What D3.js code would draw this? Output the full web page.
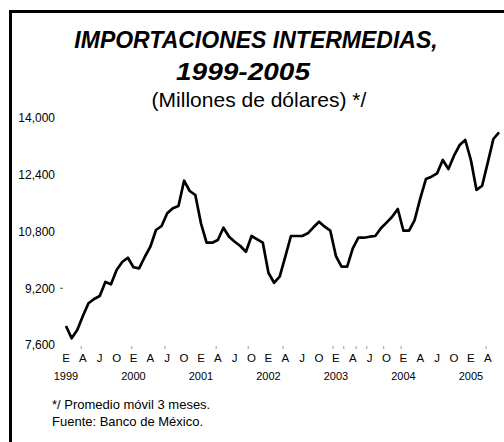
<!DOCTYPE html>
<html>
<head>
<meta charset="utf-8">
<script src="https://cdn.jsdelivr.net/npm/d3@7"></script>
<style>
  body { margin: 0; background: #fff; }
  text { font-family: "Liberation Sans", Arial, sans-serif; fill: #000; }
</style>
</head>
<body>
<svg id="chart"></svg>
<script>
// monthly values, Jan 1999 .. Jun 2005 (millones de dolares, promedio movil 3 meses)
const years = [1999, 2000, 2001, 2002, 2003, 2004, 2005];
const monthLetters = ['E', 'A', 'J', 'O'];
const yTicks = [7600, 9200, 10800, 12400, 14000];
const values = [
  8136, 7789, 8023, 8418, 8776, 8897, 8981, 9376, 9311, 9714, 9940, 10061,
  9791, 9762, 10081, 10371, 10842, 10955, 11313, 11454, 11519, 12232, 11942, 11829,
  11031, 10484, 10484, 10560, 10907, 10653, 10512, 10391, 10230, 10673, 10580, 10484,
  9638, 9356, 9526, 10089, 10673, 10673, 10673, 10749, 10918, 11076, 10935, 10822,
  10109, 9807, 9807, 10326, 10625, 10625, 10653, 10673, 10890, 11051, 11217, 11434,
  10822, 10822, 11124, 11736, 12280, 12345, 12441, 12816, 12562, 12937, 13238, 13380,
  12816, 11970, 12091, 12740, 13408, 13597
];
// faint stray tick marks seen above the month letters (month index)
const strayTicks = [2.7, 11.7, 17.6, 26.7, 32.4, 38.6, 47.5, 49.4, 51.6, 53.5, 56.5, 59.6, 74.7];

const width = 504, height = 442;

const svg = d3.select('#chart')
    .attr('width', width)
    .attr('height', height);

// frame (only top and left edges fall inside the picture)
svg.append('rect')
    .attr('x', 10.5)
    .attr('y', 11.5)
    .attr('width', 520)
    .attr('height', 460)
    .attr('fill', 'none')
    .attr('stroke', '#000')
    .attr('stroke-width', 3);

// titles
svg.append('text')
    .attr('x', 256).attr('y', 48)
    .attr('text-anchor', 'middle')
    .style('font-size', '23px').style('font-weight', 'bold').style('font-style', 'italic')
    .text('IMPORTACIONES INTERMEDIAS,');
svg.append('text')
    .attr('x', 176).attr('y', 80)
    .attr('textLength', 134)
    .attr('lengthAdjust', 'spacingAndGlyphs')
    .style('font-size', '24px').style('font-weight', 'bold').style('font-style', 'italic')
    .text('1999-2005');
svg.append('text')
    .attr('x', 259).attr('y', 107)
    .attr('text-anchor', 'middle')
    .style('font-size', '21px')
    .text('(Millones de dólares) */');

// scales
const x = d3.scaleLinear()
    .domain([0, values.length - 1])
    .range([66, 499]);
const y = d3.scaleLinear()
    .domain([7600, 14000])
    .range([345, 118]);

// Y axis labels
const yAxis = d3.axisLeft(y)
    .tickValues(yTicks)
    .tickSize(0)
    .tickPadding(0)
    .tickFormat(d3.format(','));
svg.append('g')
    .attr('transform', 'translate(55,0)')
    .call(yAxis)
    .call(g => g.select('.domain').remove())
    .selectAll('text')
    .style('font-size', '12px')
    .style('font-family', '"Liberation Sans", Arial, sans-serif');

// small dash after 9,200
svg.append('line')
    .attr('x1', 60).attr('x2', 63)
    .attr('y1', y(9200)).attr('y2', y(9200))
    .attr('stroke', '#555').attr('stroke-width', 1);

// X axis: quarter letters and years
const quarterMonths = d3.range(0, values.length, 3);
svg.append('g').selectAll('text')
    .data(quarterMonths)
    .enter()
    .append('text')
    .attr('x', d => x(d))
    .attr('y', 362)
    .attr('text-anchor', 'middle')
    .style('font-size', '11.5px')
    .text(d => monthLetters[(d % 12) / 3]);

svg.append('g').selectAll('text')
    .data(years)
    .enter()
    .append('text')
    .attr('x', (d, i) => x(i * 12))
    .attr('y', 380)
    .attr('text-anchor', 'middle')
    .style('font-size', '11px')
    .text(d => d);

svg.append('g').selectAll('line')
    .data(strayTicks)
    .enter()
    .append('line')
    .attr('x1', d => x(d)).attr('x2', d => x(d))
    .attr('y1', 346).attr('y2', 349)
    .attr('stroke', '#999').attr('stroke-width', 1);

// series line
const line = d3.line()
    .x((d, i) => x(i))
    .y(d => y(d));
svg.append('path')
    .datum(values)
    .attr('d', line)
    .attr('fill', 'none')
    .attr('stroke', '#000')
    .attr('stroke-width', 2.7)
    .attr('stroke-linejoin', 'round');

// footnotes
svg.append('text')
    .attr('x', 52).attr('y', 409)
    .style('font-size', '13px')
    .text('*/ Promedio móvil 3 meses.');
svg.append('text')
    .attr('x', 52).attr('y', 426)
    .style('font-size', '13px')
    .text('Fuente: Banco de México.');
</script>
</body>
</html>
